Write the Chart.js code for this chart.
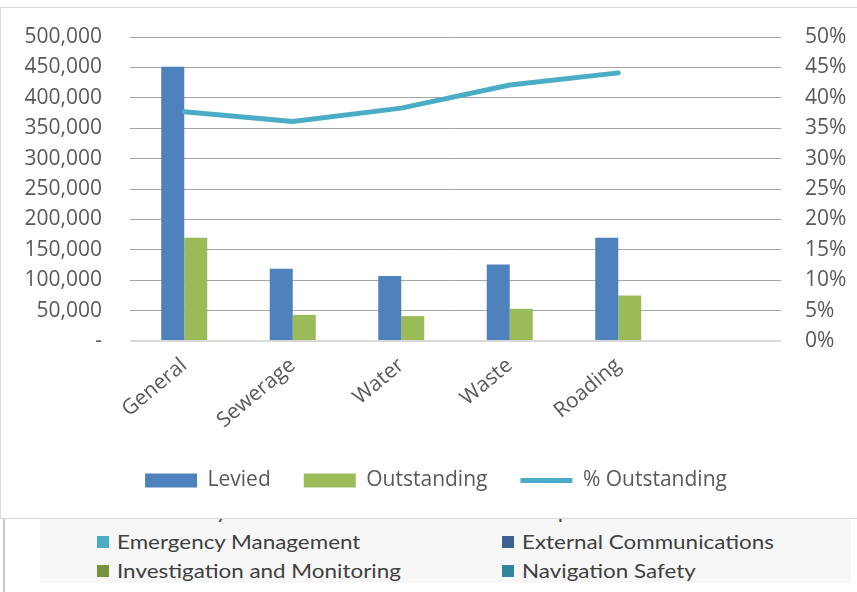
<!DOCTYPE html>
<html>
<head>
<meta charset="utf-8">
<script src="https://cdn.jsdelivr.net/npm/chart.js@4.4.1/dist/chart.umd.min.js"></script>
<style>
body { margin:0; background:#fff; width:857px; height:592px; overflow:hidden; position:relative; }
#box { position:absolute; left:0; top:7px; width:900px; height:510px; border:1px solid #d9d9d9; border-right:none; background:#fff; z-index:2; }
#box canvas { display:block; }
#rule { position:absolute; left:3px; top:518px; width:2px; height:74px; background:#c6c6c6; }
#panel { position:absolute; left:40px; top:518px; width:811px; height:65px; background:#f7f7f7; }
.key { position:absolute; width:12px; height:12px; }
.name { position:absolute; font-family:Lato, sans-serif; font-size:19px; color:#404040; white-space:nowrap; line-height:20px; transform:scaleX(1.18); transform-origin:left center; }
</style>
</head>
<body>
<div id="rule"></div>
<div id="panel"></div>
<div id="keys"></div>
<div id="box"><canvas id="rates" width="856" height="510"></canvas></div>

<script>
const categories = ['General', 'Sewerage', 'Water', 'Waste', 'Roading', ''];
const levied = [451000, 119000, 107000, 126000, 170000, null];
const outstanding = [170000, 43000, 41000, 53000, 75000, null];
const pctOutstanding = [0.377, 0.361, 0.383, 0.421, 0.441, null];

const amountTicks = ['-', '50,000', '100,000', '150,000', '200,000', '250,000', '300,000', '350,000', '400,000', '450,000', '500,000'];
const percentTicks = ['0%', '5%', '10%', '15%', '20%', '25%', '30%', '35%', '40%', '45%', '50%'];

// legend of the chart sitting underneath (mostly covered)
const areaNames = ['Biosecurity', 'Corporate Services', 'Emergency Management', 'External Communications', 'Investigation and Monitoring', 'Navigation Safety'];
const areaColors = ['#8064a2', '#f79646', '#4bacc6', '#3f5f8f', '#77933c', '#31859c'];

document.addEventListener("DOMContentLoaded", function () {
    drawKeys();
    drawChart();
});

function drawKeys(){
    const holder = document.getElementById("keys");
    for(let i = 0; i < areaNames.length; i++){
        const row = Math.floor(i / 2);
        const col = i % 2;
        const cy = 512 + row * 29.5;
        const sq = document.createElement("div");
        sq.className = "key";
        sq.style.left = (col ? 502 : 97) + "px";
        sq.style.top = (cy - 6) + "px";
        sq.style.background = areaColors[i];
        holder.appendChild(sq);
        const txt = document.createElement("div");
        txt.className = "name";
        txt.style.left = (col ? 522 : 117) + "px";
        txt.style.top = (cy - 10) + "px";
        txt.innerText = areaNames[i];
        holder.appendChild(txt);
    }
}

// the wide tick padding would otherwise push the plot area down
function fitAxis(width){
    return function (scale) {
        scale.width = width;
        scale.paddingTop = 0;
        scale.paddingBottom = 0;
    };
}

function drawChart(){
    const font = { family: "'Open Sans'", size: 21 };
    const grey = '#595959';

    new Chart(document.getElementById("rates"), {
        type: 'bar',
        data: {
            labels: categories,
            datasets: [
                {
                    label: 'Levied',
                    data: levied,
                    backgroundColor: '#4f81bd',
                    pointStyle: 'rect',
                    order: 1
                },
                {
                    label: 'Outstanding',
                    data: outstanding,
                    backgroundColor: '#9bbb59',
                    pointStyle: 'rect',
                    order: 1
                },
                {
                    type: 'line',
                    label: '% Outstanding',
                    data: pctOutstanding,
                    yAxisID: 'y1',
                    borderColor: '#4bacc6',
                    backgroundColor: '#4bacc6',
                    borderWidth: 5,
                    borderCapStyle: 'round',
                    borderJoinStyle: 'round',
                    pointRadius: 0,
                    pointStyle: 'line',
                    tension: 0,
                    order: 0
                }
            ]
        },
        options: {
            responsive: false,
            animation: false,
            layout: { padding: { top: 29, left: 14, right: 0, bottom: 17 } },
            datasets: {
                bar: { categoryPercentage: 0.424, barPercentage: 1 }
            },
            plugins: {
                tooltip: { enabled: false },
                legend: {
                    position: 'bottom',
                    labels: {
                        usePointStyle: true,
                        pointStyleWidth: 52,
                        boxHeight: 14,
                        padding: 33,
                        color: grey,
                        font: font,
                        sort: (a, b) => a.datasetIndex - b.datasetIndex
                    }
                }
            },
            scales: {
                x: {
                    grid: { display: false },
                    border: { display: false },
                    ticks: { color: grey, font: font, minRotation: 40, maxRotation: 40, autoSkip: false, padding: 4 },
                    afterFit: function (scale) { scale.height = 96; }
                },
                y: {
                    position: 'left',
                    min: 0,
                    max: 500000,
                    border: { display: false },
                    grid: {
                        drawTicks: false,
                        color: ctx => ctx.tick.value === 0 ? '#d9d9d9' : '#a6a6a6',
                        lineWidth: ctx => ctx.tick.value === 0 ? 2 : 1
                    },
                    ticks: {
                        stepSize: 50000,
                        padding: 28,
                        color: grey,
                        font: font,
                        callback: (value, index) => amountTicks[index]
                    },
                    afterFit: fitAxis(115)
                },
                y1: {
                    position: 'right',
                    min: 0,
                    max: 0.5,
                    border: { display: false },
                    grid: { display: false, drawTicks: false },
                    ticks: {
                        stepSize: 0.05,
                        padding: 24,
                        color: grey,
                        font: font,
                        callback: (value, index) => percentTicks[index]
                    },
                    afterFit: fitAxis(76)
                }
            }
        }
    });
}
</script>
</body>
</html>
